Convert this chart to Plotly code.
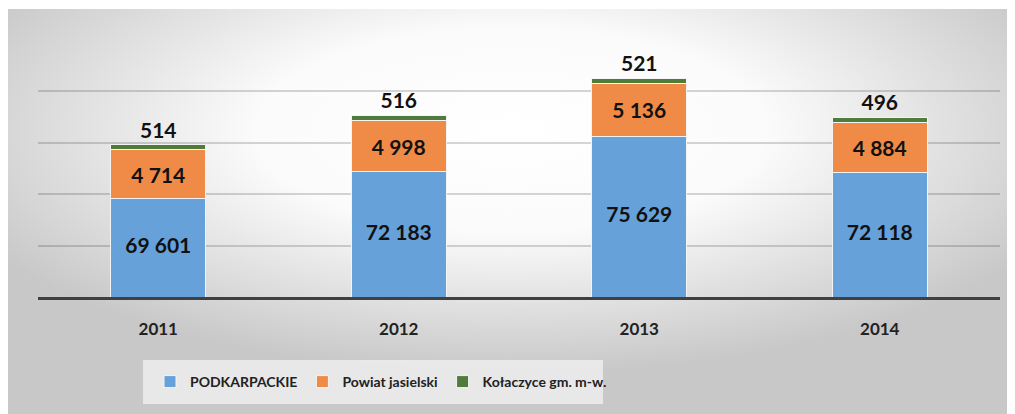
import base64
import plotly.graph_objects as go

# ── data ──────────────────────────────────────────────────────────────────
years = ["2011", "2012", "2013", "2014"]
podkarpackie = [69601, 72183, 75629, 72118]
powiat_jasielski = [4714, 4998, 5136, 4884]
kolaczyce = [514, 516, 521, 496]

series_names = ["PODKARPACKIE", "Powiat jasielski", "Kołaczyce gm. m-w."]
colors = ["#66A1D9", "#EF8B47", "#4F7B3B"]

y_min, y_max, y_step = 60000, 85000, 5000

# ── geometry (px) ─────────────────────────────────────────────────────────
# the page body adds an 8px margin, so the figure is a little smaller
OFF = 8
W, H = 1015 - OFF, 414 - OFF
ML, MR, MT, MB = 38 - OFF, 15, 40 - OFF, 117
BG_LEFT, BG_TOP = 0, 1
plot_w = W - ML - MR
plot_h = H - MT - MB


def px_x(page_x):
    return (page_x - OFF - ML) / plot_w


def px_y(page_y):
    return (H - MB - (page_y - OFF)) / plot_h


FONT = "Lato"

# radial gradient background as an svg image
svg = f"""<svg xmlns='http://www.w3.org/2000/svg' width='{W - BG_LEFT}' height='{H - BG_TOP}'
 viewBox='0 0 {W - BG_LEFT} {H - BG_TOP}' preserveAspectRatio='none'>
<defs><radialGradient id='g' cx='0.5' cy='0.3' r='0.6'>
<stop offset='0' stop-color='#ffffff'/>
<stop offset='0.42' stop-color='#fbfbfb'/>
<stop offset='1' stop-color='#c8c8c8'/>
</radialGradient></defs>
<rect width='100%' height='100%' fill='url(#g)'/>
</svg>"""
svg_uri = "data:image/svg+xml;base64," + base64.b64encode(svg.encode()).decode()

label_font = dict(family=FONT, size=21, color="#111", weight=700)

fig = go.Figure()

fig.add_trace(go.Bar(
    x=years, y=podkarpackie, name=series_names[0],
    marker=dict(color=colors[0], line=dict(width=1, color="#f4f4f4")),
))
fig.add_trace(go.Bar(
    x=years, y=powiat_jasielski, name=series_names[1],
    marker=dict(color=colors[1], line=dict(width=1, color="#f4f4f4")),
    texttemplate="%{y:,.0f}", textposition="inside", insidetextanchor="middle",
    textangle=0, textfont=label_font, constraintext="none",
))
fig.add_trace(go.Bar(
    x=years, y=kolaczyce, name=series_names[2],
    marker=dict(color=colors[2], line=dict(width=1, color="#f4f4f4")),
    texttemplate="%{y:,.0f}", textposition="outside", cliponaxis=False,
    textangle=0, outsidetextfont=label_font,
))

# labels for the blue segment, centred on its visible part
fig.add_trace(go.Scatter(
    x=years, y=[(y_min + v) / 2 for v in podkarpackie],
    mode="text", text=[f"{v:,}".replace(",", " ") for v in podkarpackie],
    textfont=label_font,
    showlegend=False, hoverinfo="skip",
))

fig.update_layout(
    width=W, height=H,
    margin=dict(l=ML, r=MR, t=MT, b=MB),
    barmode="stack",
    bargap=0.605,
    separators=", ",
    paper_bgcolor="white",
    plot_bgcolor="rgba(0,0,0,0)",
    font=dict(family=FONT, size=15, color="#222", weight=700),
    showlegend=True,
    legend=dict(
        orientation="h",
        x=px_x(150), xanchor="left",
        y=px_y(382), yanchor="middle",
        bgcolor="rgba(0,0,0,0)",
        font=dict(family=FONT, size=14, color="#222", weight=700),
        itemwidth=30,
        traceorder="normal",
    ),
    xaxis=dict(
        type="category",
        showgrid=False, zeroline=False,
        showline=True, linecolor="#404040", linewidth=3,
        ticks="", ticklabelstandoff=15,
        tickfont=dict(family=FONT, size=17, color="#222", weight=700),
    ),
    yaxis=dict(
        range=[y_min, y_max], tick0=y_min, dtick=y_step,
        showticklabels=False, zeroline=False,
        showgrid=True, gridcolor="rgba(0,0,0,0.16)", gridwidth=2,
    ),
    shapes=[dict(
        type="rect", xref="paper", yref="paper", layer="below",
        x0=px_x(143), x1=px_x(603), y0=px_y(404), y1=px_y(360),
        fillcolor="rgba(240,240,240,0.8)", line=dict(width=0),
    )],
    images=[dict(
        source=svg_uri, xref="paper", yref="paper",
        x=(BG_LEFT - ML) / plot_w, y=(H - MB - BG_TOP) / plot_h,
        sizex=(W - BG_LEFT) / plot_w, sizey=(H - BG_TOP) / plot_h,
        xanchor="left", yanchor="top", sizing="stretch", layer="below",
    )],
)

fig.write_html("out.html")
